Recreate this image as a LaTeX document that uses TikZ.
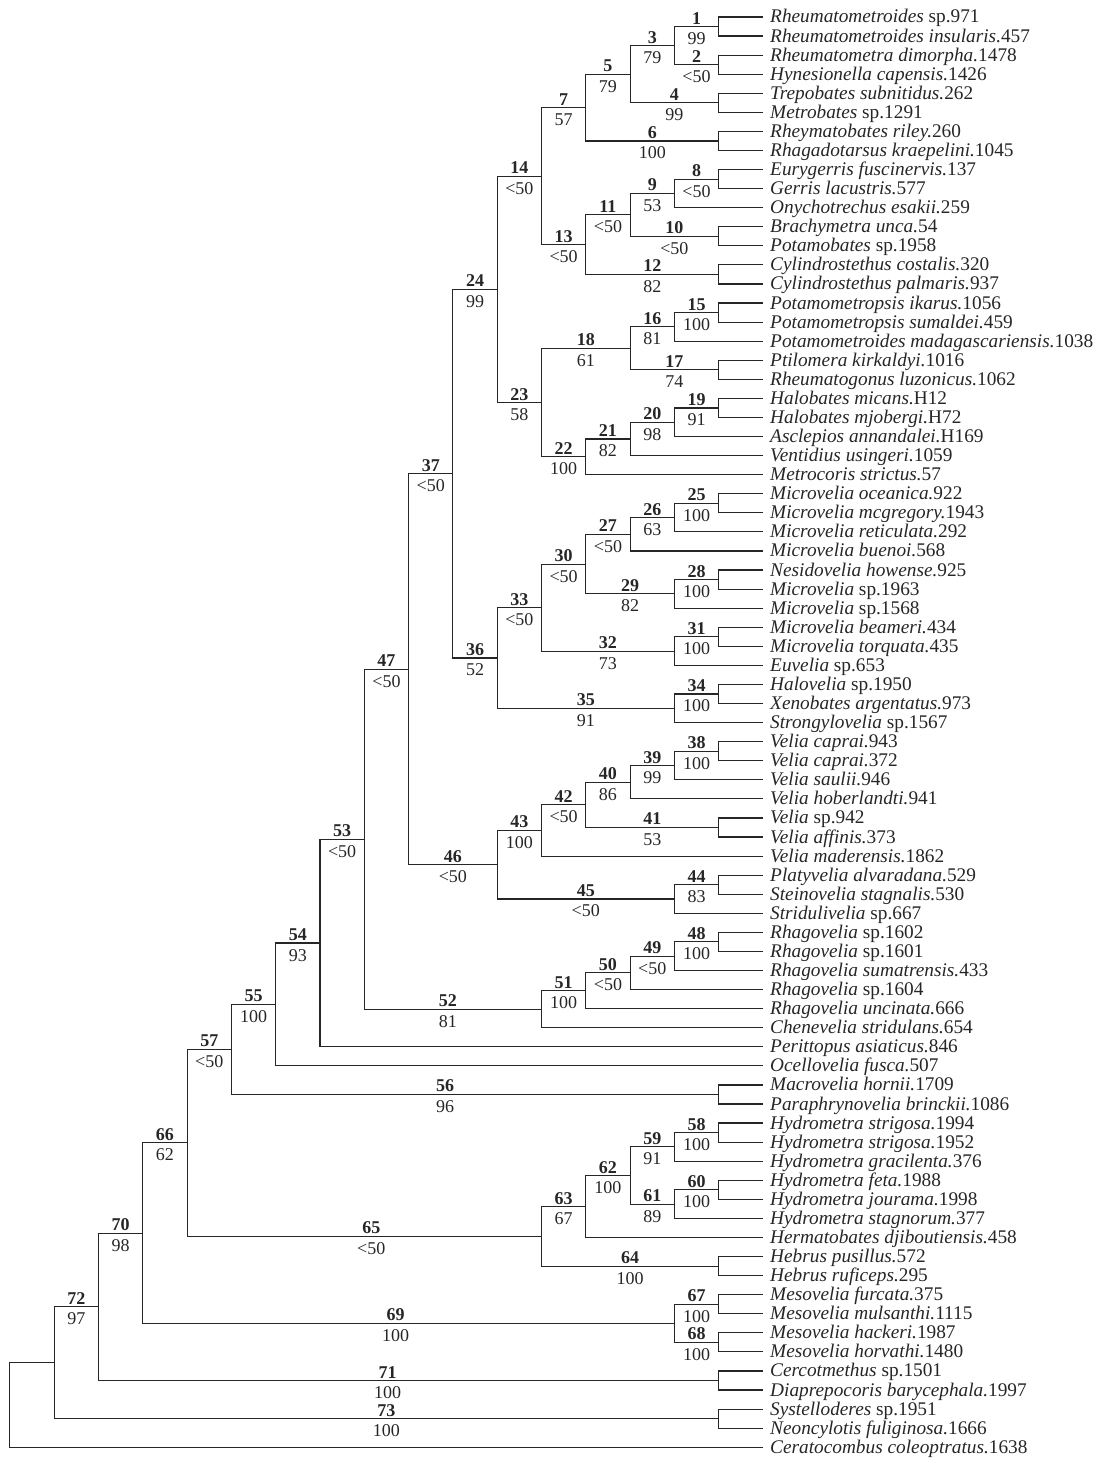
\documentclass[tikz,border=0pt]{standalone}
\usepackage{fontspec}
\setmainfont{Liberation Serif}
\usetikzlibrary{calc}
\newcommand\tx[2]{\textit{#1.}#2}
\newcommand\spx[2]{\textit{#1} sp.#2}
\newcommand\clade[4]{%
  \path let \p1=(#3),\p2=(#4) in coordinate (#1) at ({763pt-44.3pt*#2},{0.5*\y1+0.5*\y2});
  \draw[branch] (#1) |- (#3);
  \draw[branch] (#1) |- (#4);}
\newcommand\lab[5][0]{\path ($(#3 |- #2)!.5!(#2)$) ++(#1,0) node[num]{#4} node[sup]{#5};}
\begin{document}
\begin{tikzpicture}[x=1pt,y=-1pt,
  branch/.style={line width=1.15pt, black!85},
  taxon/.style={anchor=base west, inner sep=0pt, xshift=7pt, yshift=-6pt, font=\fontsize{19.3}{19.3}\selectfont, text=black!85},
  num/.style={anchor=base, inner sep=0pt, yshift=2.5pt, font=\fontsize{18}{18}\selectfont\bfseries, text=black!85},
  sup/.style={anchor=base, inner sep=0pt, yshift=-18pt, font=\fontsize{18}{18}\selectfont, text=black!85}]
\useasboundingbox (0,0) rectangle (1100,1458);
\foreach \nm [count=\i] in {
 {\spx{Rheumatometroides}{971}},
 {\tx{Rheumatometroides insularis}{457}},
 {\tx{Rheumatometra dimorpha}{1478}},
 {\tx{Hynesionella capensis}{1426}},
 {\tx{Trepobates subnitidus}{262}},
 {\spx{Metrobates}{1291}},
 {\tx{Rheymatobates riley}{260}},
 {\tx{Rhagadotarsus kraepelini}{1045}},
 {\tx{Eurygerris fuscinervis}{137}},
 {\tx{Gerris lacustris}{577}},
 {\tx{Onychotrechus esakii}{259}},
 {\tx{Brachymetra unca}{54}},
 {\spx{Potamobates}{1958}},
 {\tx{Cylindrostethus costalis}{320}},
 {\tx{Cylindrostethus palmaris}{937}},
 {\tx{Potamometropsis ikarus}{1056}},
 {\tx{Potamometropsis sumaldei}{459}},
 {\tx{Potamometroides madagascariensis}{1038}},
 {\tx{Ptilomera kirkaldyi}{1016}},
 {\tx{Rheumatogonus luzonicus}{1062}},
 {\tx{Halobates micans}{H12}},
 {\tx{Halobates mjobergi}{H72}},
 {\tx{Asclepios annandalei}{H169}},
 {\tx{Ventidius usingeri}{1059}},
 {\tx{Metrocoris strictus}{57}},
 {\tx{Microvelia oceanica}{922}},
 {\tx{Microvelia mcgregory}{1943}},
 {\tx{Microvelia reticulata}{292}},
 {\tx{Microvelia buenoi}{568}},
 {\tx{Nesidovelia howense}{925}},
 {\spx{Microvelia}{1963}},
 {\spx{Microvelia}{1568}},
 {\tx{Microvelia beameri}{434}},
 {\tx{Microvelia torquata}{435}},
 {\spx{Euvelia}{653}},
 {\spx{Halovelia}{1950}},
 {\tx{Xenobates argentatus}{973}},
 {\spx{Strongylovelia}{1567}},
 {\tx{Velia caprai}{943}},
 {\tx{Velia caprai}{372}},
 {\tx{Velia saulii}{946}},
 {\tx{Velia hoberlandti}{941}},
 {\spx{Velia}{942}},
 {\tx{Velia affinis}{373}},
 {\tx{Velia maderensis}{1862}},
 {\tx{Platyvelia alvaradana}{529}},
 {\tx{Steinovelia stagnalis}{530}},
 {\spx{Stridulivelia}{667}},
 {\spx{Rhagovelia}{1602}},
 {\spx{Rhagovelia}{1601}},
 {\tx{Rhagovelia sumatrensis}{433}},
 {\spx{Rhagovelia}{1604}},
 {\tx{Rhagovelia uncinata}{666}},
 {\tx{Chenevelia stridulans}{654}},
 {\tx{Perittopus asiaticus}{846}},
 {\tx{Ocellovelia fusca}{507}},
 {\tx{Macrovelia hornii}{1709}},
 {\tx{Paraphrynovelia brinckii}{1086}},
 {\tx{Hydrometra strigosa}{1994}},
 {\tx{Hydrometra strigosa}{1952}},
 {\tx{Hydrometra gracilenta}{376}},
 {\tx{Hydrometra feta}{1988}},
 {\tx{Hydrometra jourama}{1998}},
 {\tx{Hydrometra stagnorum}{377}},
 {\tx{Hermatobates djiboutiensis}{458}},
 {\tx{Hebrus pusillus}{572}},
 {\tx{Hebrus ruficeps}{295}},
 {\tx{Mesovelia furcata}{375}},
 {\tx{Mesovelia mulsanthi}{1115}},
 {\tx{Mesovelia hackeri}{1987}},
 {\tx{Mesovelia horvathi}{1480}},
 {\spx{Cercotmethus}{1501}},
 {\tx{Diaprepocoris barycephala}{1997}},
 {\spx{Systelloderes}{1951}},
 {\tx{Neoncylotis fuliginosa}{1666}},
 {\tx{Ceratocombus coleoptratus}{1638}}}{
  \coordinate (t\i) at (763,{17+19.07*(\i-1)});
  \node[taxon] (L\i) at (t\i) {\nm};
}
\clade{n1}{1}{t1}{t2}
\clade{n2}{1}{t3}{t4}
\clade{n3}{2}{n1}{n2}
\clade{n4}{1}{t5}{t6}
\clade{n5}{3}{n3}{n4}
\clade{n6}{1}{t7}{t8}
\clade{n7}{4}{n5}{n6}
\clade{n8}{1}{t9}{t10}
\clade{n9}{2}{n8}{t11}
\clade{n10}{1}{t12}{t13}
\clade{n11}{3}{n9}{n10}
\clade{n12}{1}{t14}{t15}
\clade{n13}{4}{n11}{n12}
\clade{n14}{5}{n7}{n13}
\clade{n15}{1}{t16}{t17}
\clade{n16}{2}{n15}{t18}
\clade{n17}{1}{t19}{t20}
\clade{n18}{3}{n16}{n17}
\clade{n19}{1}{t21}{t22}
\clade{n20}{2}{n19}{t23}
\clade{n21}{3}{n20}{t24}
\clade{n22}{4}{n21}{t25}
\clade{n23}{5}{n18}{n22}
\clade{n24}{6}{n14}{n23}
\clade{n25}{1}{t26}{t27}
\clade{n26}{2}{n25}{t28}
\clade{n27}{3}{n26}{t29}
\clade{n28}{1}{t30}{t31}
\clade{n29}{2}{n28}{t32}
\clade{n30}{4}{n27}{n29}
\clade{n31}{1}{t33}{t34}
\clade{n32}{2}{n31}{t35}
\clade{n33}{5}{n30}{n32}
\clade{n34}{1}{t36}{t37}
\clade{n35}{2}{n34}{t38}
\clade{n36}{6}{n33}{n35}
\clade{n37}{7}{n24}{n36}
\clade{n38}{1}{t39}{t40}
\clade{n39}{2}{n38}{t41}
\clade{n40}{3}{n39}{t42}
\clade{n41}{1}{t43}{t44}
\clade{n42}{4}{n40}{n41}
\clade{n43}{5}{n42}{t45}
\clade{n44}{1}{t46}{t47}
\clade{n45}{2}{n44}{t48}
\clade{n46}{6}{n43}{n45}
\clade{n47}{8}{n37}{n46}
\clade{n48}{1}{t49}{t50}
\clade{n49}{2}{n48}{t51}
\clade{n50}{3}{n49}{t52}
\clade{n51}{4}{n50}{t53}
\clade{n52}{5}{n51}{t54}
\clade{n53}{9}{n47}{n52}
\clade{n54}{10}{n53}{t55}
\clade{n55}{11}{n54}{t56}
\clade{n56}{1}{t57}{t58}
\clade{n57}{12}{n55}{n56}
\clade{n58}{1}{t59}{t60}
\clade{n59}{2}{n58}{t61}
\clade{n60}{1}{t62}{t63}
\clade{n61}{2}{n60}{t64}
\clade{n62}{3}{n59}{n61}
\clade{n63}{4}{n62}{t65}
\clade{n64}{1}{t66}{t67}
\clade{n65}{5}{n63}{n64}
\clade{n66}{13}{n57}{n65}
\clade{n67}{1}{t68}{t69}
\clade{n68}{1}{t70}{t71}
\clade{n69}{2}{n67}{n68}
\clade{n70}{14}{n66}{n69}
\clade{n71}{1}{t72}{t73}
\clade{n72}{15}{n70}{n71}
\clade{n73}{1}{t74}{t75}
\clade{n74}{16}{n72}{n73}
\clade{n75}{17}{n74}{t76}
\lab{n1}{n3}{1}{99}
\lab{n2}{n3}{2}{<50}
\lab{n3}{n5}{3}{79}
\lab{n4}{n5}{4}{99}
\lab{n5}{n7}{5}{79}
\lab{n6}{n7}{6}{100}
\lab{n7}{n14}{7}{57}
\lab{n8}{n9}{8}{<50}
\lab{n9}{n11}{9}{53}
\lab{n10}{n11}{10}{<50}
\lab{n11}{n13}{11}{<50}
\lab{n12}{n13}{12}{82}
\lab{n13}{n14}{13}{<50}
\lab{n14}{n24}{14}{<50}
\lab{n15}{n16}{15}{100}
\lab{n16}{n18}{16}{81}
\lab{n17}{n18}{17}{74}
\lab{n18}{n23}{18}{61}
\lab{n19}{n20}{19}{91}
\lab{n20}{n21}{20}{98}
\lab{n21}{n22}{21}{82}
\lab{n22}{n23}{22}{100}
\lab{n23}{n24}{23}{58}
\lab{n24}{n37}{24}{99}
\lab{n25}{n26}{25}{100}
\lab{n26}{n27}{26}{63}
\lab{n27}{n30}{27}{<50}
\lab{n28}{n29}{28}{100}
\lab{n29}{n30}{29}{82}
\lab{n30}{n33}{30}{<50}
\lab{n31}{n32}{31}{100}
\lab{n32}{n33}{32}{73}
\lab{n33}{n36}{33}{<50}
\lab{n34}{n35}{34}{100}
\lab{n35}{n36}{35}{91}
\lab{n36}{n37}{36}{52}
\lab{n37}{n47}{37}{<50}
\lab{n38}{n39}{38}{100}
\lab{n39}{n40}{39}{99}
\lab{n40}{n42}{40}{86}
\lab{n41}{n42}{41}{53}
\lab{n42}{n43}{42}{<50}
\lab{n43}{n46}{43}{100}
\lab{n44}{n45}{44}{83}
\lab{n45}{n46}{45}{<50}
\lab{n46}{n47}{46}{<50}
\lab{n47}{n53}{47}{<50}
\lab{n48}{n49}{48}{100}
\lab{n49}{n50}{49}{<50}
\lab{n50}{n51}{50}{<50}
\lab{n51}{n52}{51}{100}
\lab[-5]{n52}{n53}{52}{81}
\lab{n53}{n54}{53}{<50}
\lab{n54}{n55}{54}{93}
\lab{n55}{n57}{55}{100}
\lab[-30]{n56}{n57}{56}{96}
\lab{n57}{n66}{57}{<50}
\lab{n58}{n59}{58}{100}
\lab{n59}{n62}{59}{91}
\lab{n60}{n61}{60}{100}
\lab{n61}{n62}{61}{89}
\lab{n62}{n63}{62}{100}
\lab{n63}{n65}{63}{67}
\lab{n64}{n65}{64}{100}
\lab[7]{n65}{n66}{65}{<50}
\lab{n66}{n70}{66}{62}
\lab{n67}{n69}{67}{100}
\lab{n68}{n69}{68}{100}
\lab[-13]{n69}{n70}{69}{100}
\lab{n70}{n72}{70}{98}
\lab[-21]{n71}{n72}{71}{100}
\lab{n72}{n74}{72}{97}
\lab{n73}{n74}{73}{100}
\end{tikzpicture}
\end{document}
